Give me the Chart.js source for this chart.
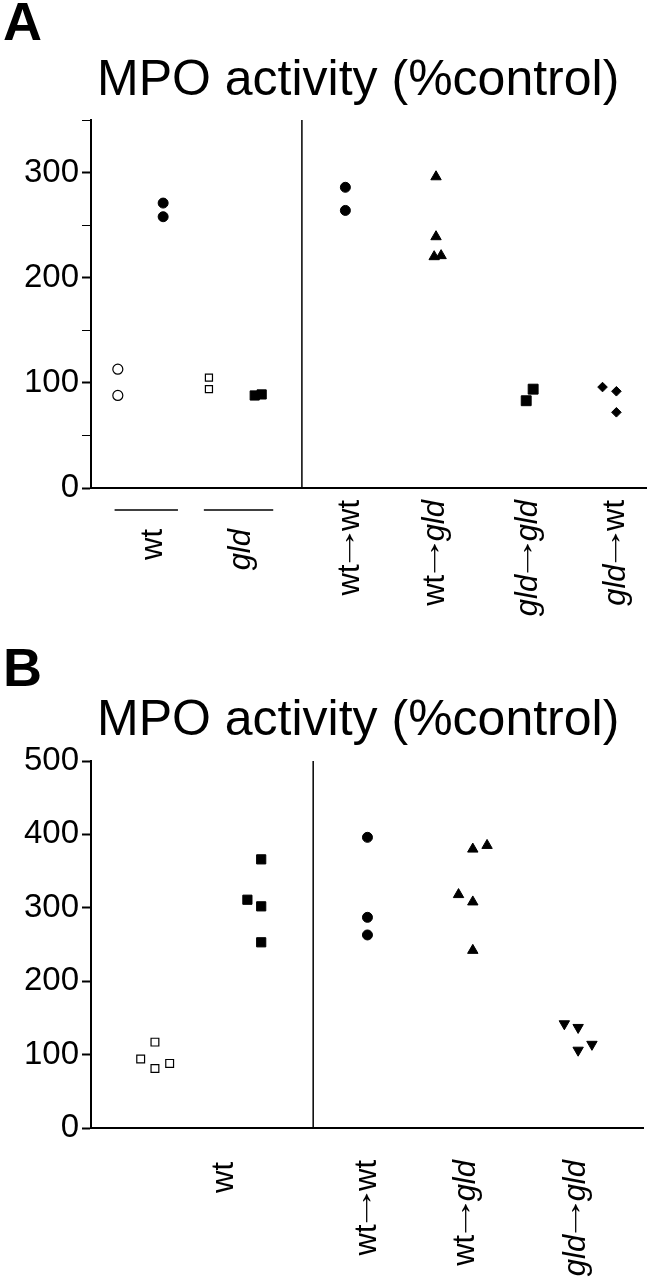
<!DOCTYPE html>
<html>
<head>
<meta charset="utf-8">
<script src="https://cdn.jsdelivr.net/npm/chart.js@4.4.1/dist/chart.umd.min.js"></script>
<style>
  body { margin: 0; background: #fff; }
  canvas { display: block; }
</style>
</head>
<body>
<canvas id="chartA" width="654" height="640"></canvas>
<canvas id="chartB" width="654" height="640"></canvas>
<script>
const FONT = '"Liberation Sans", Arial, Helvetica, sans-serif';

// ---------- Panel A (x in axis units 0..12) ----------
const aTitle = 'MPO activity (%control)';
const aLabels = ['wt', 'gld', 'wt→wt', 'wt→gld', 'gld→gld', 'gld→wt'];
const aLabelX = [1.35, 3.25, 5.6, 7.45, 9.45, 11.35];
const aYMax = 350;
const aSepX = 4.56;

const aWtCtrlX = [0.58, 0.58];
const aWtCtrlY = [113, 88];
const aWtX = [1.56, 1.56];
const aWtY = [271, 258];
const aGldCtrlX = [2.55, 2.55];
const aGldCtrlY = [105, 94];
const aGldX = [3.54, 3.69];
const aGldY = [88, 89];
const aWtWtX = [5.5, 5.5];
const aWtWtY = [286, 264];
const aWtGldX = [7.46, 7.46, 7.42, 7.57];
const aWtGldY = [296, 239, 220, 221];
const aGldGldX = [9.41, 9.56];
const aGldGldY = [83, 94];
const aGldWtX = [11.06, 11.36, 11.36];
const aGldWtY = [96, 92, 72];

// ---------- Panel B ----------
const bTitle = 'MPO activity (%control)';
const bLabels = ['wt', 'wt→wt', 'wt→gld', 'gld→gld'];
const bLabelX = [2.9, 6.0, 8.15, 10.55];
const bYMax = 500;
const bSepX = 4.83;

const bWtCtrlX = [1.08, 1.39, 1.39, 1.71];
const bWtCtrlY = [94, 117, 81, 88];
const bWtX = [3.4, 3.7, 3.7, 3.7];
const bWtY = [311, 366, 302, 253];
const bWtWtX = [6.01, 6.01, 6.01];
const bWtWtY = [396, 287, 263];
const bWtGldX = [8.3, 8.61, 7.99, 8.3, 8.3];
const bWtGldY = [380, 385, 318, 308, 242];
const bGldGldX = [10.29, 10.59, 10.89, 10.59];
const bGldGldY = [142, 137, 114, 106];

function pts(xs, ys) {
  return xs.map((x, i) => ({ x: x, y: ys[i] }));
}

function dots(xs, ys, shape, r, filled, rot) {
  return {
    data: pts(xs, ys),
    pointStyle: shape,
    pointRadius: r,
    pointRotation: rot || 0,
    pointBackgroundColor: filled ? '#000' : '#fff',
    pointBorderColor: '#000',
    pointBorderWidth: filled ? 1 : 1.2,
    showLine: false
  };
}

function separator(xv, ymax) {
  return {
    type: 'line',
    data: [{ x: xv, y: 0 }, { x: xv, y: ymax }],
    borderColor: '#000',
    borderWidth: 1.5,
    pointRadius: 0,
    showLine: true
  };
}

// panel letter and heading
const panelHead = {
  id: 'panelHead',
  afterDraw(chart, args, opts) {
    const ctx = chart.ctx;
    ctx.save();
    ctx.fillStyle = '#000';
    ctx.textBaseline = 'alphabetic';
    ctx.textAlign = 'left';
    ctx.font = 'bold 54px ' + FONT;
    ctx.fillText(opts.letter, 3, opts.letterY);
    ctx.font = '50px ' + FONT;
    ctx.fillText(opts.title, 97, opts.titleY);
    ctx.restore();
  }
};

// rotated group labels under the x axis, gld in italics, arrow drawn long
function partFont(p, size) {
  if (p === 'gld') return 'italic ' + size + 'px ' + FONT;
  return size + 'px ' + FONT;
}

const catLabels = {
  id: 'catLabels',
  afterDraw(chart, args, opts) {
    const ctx = chart.ctx;
    const x = chart.scales.x;
    const y = chart.scales.y;
    const arrowLen = opts.size * 0.95;
    const arrowLift = -opts.size * 0.12;
    const gap = 2;
    ctx.save();
    ctx.strokeStyle = '#000';
    ctx.fillStyle = '#000';
    (opts.lines || []).forEach(l => {
      ctx.lineWidth = 1.5;
      ctx.beginPath();
      ctx.moveTo(x.getPixelForValue(l[0]), y.bottom + opts.lineGap);
      ctx.lineTo(x.getPixelForValue(l[1]), y.bottom + opts.lineGap);
      ctx.stroke();
    });
    opts.labels.forEach((lab, i) => {
      const parts = lab.split(/(gld|→)/).filter(Boolean);
      const fonts = parts.map(p => partFont(p, opts.size));
      const metrics = parts.map((p, k) => { ctx.font = fonts[k]; return ctx.measureText(p); });
      const widths = parts.map((p, k) => (p === '→' ? arrowLen + 2 * gap : metrics[k].width));
      const total = widths.reduce((s, w) => s + w, 0);
      ctx.save();
      ctx.translate(x.getPixelForValue(opts.pos[i]), y.bottom + opts.gaps[i]);
      ctx.rotate(-Math.PI / 2);
      ctx.textBaseline = 'middle';
      ctx.textAlign = 'left';
      let cx = -total;
      parts.forEach((p, k) => {
        ctx.font = fonts[k];
        if (p === '→') {
          const m = metrics[k];
          const ink = m.actualBoundingBoxLeft + m.actualBoundingBoxRight;
          ctx.save();
          ctx.translate(cx + gap, arrowLift);
          ctx.scale(arrowLen / ink, 1);
          ctx.fillText(p, m.actualBoundingBoxLeft, 0);
          ctx.restore();
        } else {
          ctx.fillText(p, cx, 0);
        }
        cx += widths[k];
      });
      ctx.restore();
    });
    ctx.restore();
  }
};

function axes(ymax, step, labelEvery) {
  return {
    x: {
      type: 'linear',
      min: 0,
      max: 12,
      afterFit: s => { s.height = 0; },
      ticks: { display: false },
      grid: { display: true, drawOnChartArea: false, drawTicks: false },
      border: { display: true, color: '#000', width: 2 }
    },
    y: {
      min: 0,
      max: ymax,
      afterFit: s => { s.width = 91; },
      ticks: {
        stepSize: step,
        autoSkip: false,
        padding: 3,
        color: '#000',
        font: { family: FONT, size: 33 },
        callback: v => (v % labelEvery === 0 ? v : '')
      },
      grid: {
        drawOnChartArea: false,
        tickLength: 9,
        tickColor: '#000',
        tickWidth: c => (c.tick && c.tick.value % labelEvery === 0 ? 2 : 1)
      },
      border: { color: '#000', width: 2 }
    }
  };
}

new Chart(document.getElementById('chartA'), {
  type: 'scatter',
  data: {
    datasets: [
      separator(aSepX, aYMax),
      dots(aWtCtrlX, aWtCtrlY, 'circle', 5, false),
      dots(aWtX, aWtY, 'circle', 5, true),
      dots(aGldCtrlX, aGldCtrlY, 'rect', 5, false),
      dots(aGldX, aGldY, 'rect', 6.5, true),
      dots(aWtWtX, aWtWtY, 'circle', 5, true),
      dots(aWtGldX, aWtGldY, 'triangle', 6, true),
      dots(aGldGldX, aGldGldY, 'rect', 7, true),
      dots(aGldWtX, aGldWtY, 'rectRot', 4.8, true)
    ]
  },
  options: {
    responsive: false,
    animation: false,
    layout: { padding: { top: 120, right: 2, bottom: 152, left: 0 } },
    scales: axes(aYMax, 50, 100),
    plugins: {
      legend: { display: false },
      tooltip: { enabled: false },
      panelHead: { letter: 'A', letterY: 40, title: aTitle, titleY: 95 },
      catLabels: {
        labels: aLabels,
        pos: aLabelX,
        gaps: [41, 41, 12, 12, 12, 12],
        size: 31,
        lines: [[0.51, 1.88], [2.44, 3.94]],
        lineGap: 22
      }
    }
  },
  plugins: [panelHead, catLabels]
});

new Chart(document.getElementById('chartB'), {
  type: 'scatter',
  data: {
    datasets: [
      separator(bSepX, bYMax),
      dots(bWtCtrlX, bWtCtrlY, 'rect', 5.5, false),
      dots(bWtX, bWtY, 'rect', 6.5, true),
      dots(bWtWtX, bWtWtY, 'circle', 5, true),
      dots(bWtGldX, bWtGldY, 'triangle', 6, true),
      dots(bGldGldX, bGldGldY, 'triangle', 6, true, 180)
    ]
  },
  options: {
    responsive: false,
    animation: false,
    layout: { padding: { top: 121, right: 11, bottom: 152, left: 0 } },
    scales: axes(bYMax, 100, 100),
    plugins: {
      legend: { display: false },
      tooltip: { enabled: false },
      panelHead: { letter: 'B', letterY: 46, title: bTitle, titleY: 95 },
      catLabels: {
        labels: bLabels,
        pos: bLabelX,
        gaps: [34, 32, 32, 32],
        size: 31
      }
    }
  },
  plugins: [panelHead, catLabels]
});
</script>
</body>
</html>
